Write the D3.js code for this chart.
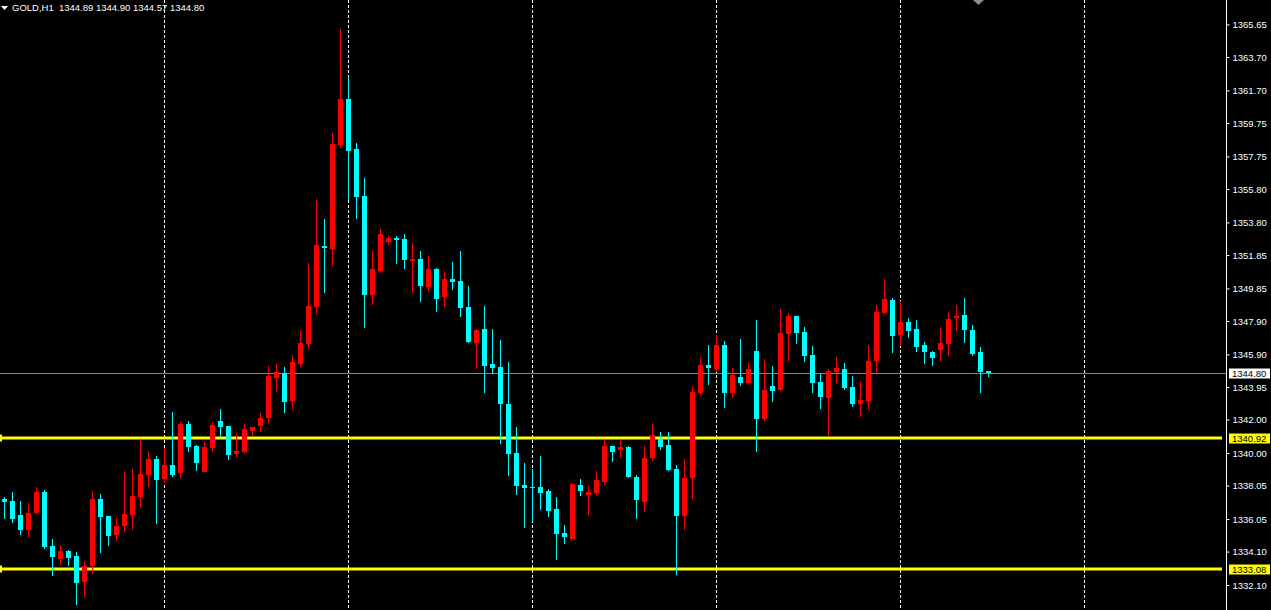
<!DOCTYPE html>
<html><head><meta charset="utf-8">
<script src="https://cdn.jsdelivr.net/npm/d3@7"></script>
<style>html,body{margin:0;padding:0;background:#000;overflow:hidden}</style>
</head><body><svg id="c" width="1271" height="610"></svg>
<script>
const symbolTitle = "GOLD,H1";
const lastQuote = [1344.89, 1344.90, 1344.57, 1344.80];
const opens = [1337.25,1337.13,1336.29,1335.41,1336.43,1337.67,1334.43,1333.66,1334.13,1333.84,1332.30,1333.26,1337.25,1336.23,1335.11,1335.65,1336.31,1337.38,1338.70,1339.64,1338.46,1339.28,1338.82,1341.73,1340.42,1338.88,1340.32,1341.91,1341.61,1339.96,1340.08,1341.32,1341.63,1342.11,1344.51,1344.80,1343.13,1345.34,1346.54,1348.75,1352.39,1352.21,1358.43,1361.18,1358.19,1355.38,1349.45,1350.89,1352.63,1352.86,1352.81,1351.49,1351.61,1349.93,1351.01,1349.33,1350.41,1350.29,1348.74,1346.58,1347.42,1345.33,1345.15,1342.93,1340.00,1338.08,1337.96,1337.96,1337.73,1336.65,1335.21,1334.85,1338.08,1337.49,1337.61,1338.26,1340.42,1340.18,1340.36,1338.56,1337.07,1339.70,1340.84,1340.48,1339.04,1336.23,1338.50,1343.59,1345.27,1345.03,1346.46,1343.59,1344.55,1344.19,1346.10,1342.03,1344.01,1343.77,1347.12,1348.20,1347.24,1345.86,1344.25,1343.29,1344.85,1345.03,1343.95,1342.93,1343.11,1345.50,1348.38,1349.15,1347.06,1347.84,1347.42,1346.46,1346.04,1346.16,1346.52,1348.08,1348.26,1347.36,1346.04,1344.89];
const highs = [1337.38,1337.67,1337.13,1337.01,1337.96,1337.79,1334.85,1334.49,1334.19,1334.07,1333.54,1337.73,1337.55,1336.25,1336.11,1338.86,1339.04,1340.84,1340.12,1339.82,1340.30,1342.45,1341.85,1341.91,1340.48,1340.66,1341.85,1342.63,1341.63,1341.14,1341.73,1341.57,1342.39,1345.21,1345.33,1345.15,1345.86,1347.36,1351.37,1355.14,1354.00,1359.15,1365.37,1362.50,1358.55,1356.46,1352.15,1353.40,1352.98,1352.98,1353.10,1352.57,1352.09,1351.79,1351.05,1350.89,1351.43,1352.09,1349.99,1347.42,1348.80,1347.42,1346.76,1345.44,1341.55,1339.40,1339.04,1339.82,1337.85,1337.37,1335.69,1338.16,1338.44,1338.02,1338.92,1340.78,1340.44,1340.84,1340.42,1338.68,1340.42,1341.73,1341.26,1341.26,1339.28,1339.64,1344.01,1345.68,1346.46,1347.06,1346.70,1345.09,1346.82,1345.44,1347.96,1345.62,1345.21,1348.62,1348.38,1348.22,1347.54,1346.40,1344.73,1345.03,1345.74,1345.38,1344.61,1344.25,1346.46,1348.86,1350.41,1349.27,1349.09,1348.08,1347.96,1346.64,1346.10,1347.48,1348.44,1348.86,1349.27,1347.66,1346.34,1344.90];
const lows = [1336.07,1335.83,1335.11,1334.99,1336.38,1334.27,1332.66,1333.30,1333.26,1330.92,1331.34,1332.78,1334.03,1334.45,1334.75,1335.29,1335.41,1336.79,1337.98,1335.77,1338.22,1338.58,1338.52,1340.08,1338.94,1338.85,1340.08,1340.97,1339.60,1339.78,1339.96,1341.02,1341.26,1341.81,1343.67,1342.41,1342.63,1345.16,1346.22,1348.32,1349.57,1351.19,1358.25,1355.14,1354.00,1347.48,1348.86,1350.77,1352.45,1351.31,1351.01,1349.57,1349.03,1349.69,1348.44,1348.74,1349.75,1348.14,1346.58,1345.03,1343.59,1344.73,1340.54,1338.62,1337.49,1335.51,1335.87,1336.59,1336.17,1333.60,1334.55,1334.83,1337.43,1336.29,1337.49,1338.08,1339.46,1339.76,1338.50,1336.05,1336.47,1339.52,1340.18,1338.92,1332.70,1335.39,1337.25,1343.47,1344.07,1344.85,1342.69,1343.29,1344.01,1344.07,1340.06,1341.91,1343.05,1343.71,1345.50,1346.52,1345.44,1343.59,1342.63,1341.02,1344.19,1343.77,1342.75,1342.15,1342.63,1344.73,1348.36,1345.98,1346.40,1346.88,1346.04,1345.33,1345.21,1345.50,1345.80,1347.30,1346.58,1345.80,1343.59,1344.57];
const closes = [1337.08,1336.07,1335.41,1336.41,1337.67,1334.39,1333.79,1334.13,1333.73,1332.24,1333.24,1337.25,1336.19,1335.05,1335.63,1336.35,1337.43,1338.74,1339.64,1338.40,1339.28,1338.70,1341.73,1340.38,1339.42,1340.36,1341.67,1341.57,1339.90,1340.12,1341.43,1341.55,1342.09,1344.61,1344.85,1343.07,1345.44,1346.58,1348.80,1352.45,1352.27,1358.49,1361.18,1358.07,1355.32,1349.45,1351.01,1353.10,1352.86,1352.75,1351.55,1351.61,1349.99,1351.01,1349.21,1350.41,1350.23,1348.68,1346.64,1347.36,1345.21,1345.09,1342.93,1339.94,1338.02,1337.90,1337.90,1337.61,1336.53,1335.15,1334.97,1338.14,1337.73,1337.67,1338.38,1340.42,1340.06,1340.36,1338.56,1337.19,1339.70,1341.08,1340.36,1338.98,1336.23,1338.50,1343.65,1345.27,1345.09,1346.46,1343.59,1344.67,1344.19,1345.03,1342.03,1343.77,1343.71,1347.18,1348.20,1347.18,1345.80,1344.19,1343.35,1344.91,1345.09,1343.89,1342.93,1343.17,1345.50,1348.44,1349.21,1347.00,1347.84,1347.30,1346.34,1346.04,1345.68,1346.58,1348.02,1348.20,1347.36,1345.92,1344.85,1344.80];
const priceTicks = [1365.65,1363.70,1361.70,1359.75,1357.75,1355.80,1353.80,1351.85,1349.85,1347.90,1345.90,1343.95,1342.00,1340.00,1338.05,1336.05,1334.10,1332.10];
const levelLines = [1340.92, 1333.08];
const bidPrice = 1344.80;
const gridBars = [20, 43, 66, 89, 112, 135];
const visibleBars = 153;

const W = 1271, H = 610, axisX = 1226;
const svg = d3.select("#c");
svg.append("rect").attr("width", W).attr("height", H).attr("fill", "#000");

const x = d3.scaleBand().domain(d3.range(visibleBars)).range([0, visibleBars * 8]);
const y = d3.scaleLinear().domain([1332.10, 1365.65]).range([585, 24.4]);
const fmt = d3.format(".2f");

// vertical dashed grid
svg.append("g").selectAll("line").data(gridBars).join("line")
  .attr("x1", d => x(d) + 4.5).attr("x2", d => x(d) + 4.5)
  .attr("y1", 0).attr("y2", H)
  .attr("stroke", "#fff").attr("stroke-width", 1).attr("stroke-dasharray", "3,2");

// bid line
svg.append("line").attr("x1", 0).attr("x2", axisX).attr("y1", Math.round(y(bidPrice)) + 0.5).attr("y2", Math.round(y(bidPrice)) + 0.5)
  .attr("stroke", "#778899").attr("stroke-width", 1);

// yellow level lines
const lv = svg.append("g");
lv.selectAll("rect.ln").data(levelLines).join("rect").attr("class", "ln")
  .attr("x", 0).attr("width", 1222).attr("y", d => Math.round(y(d)) - 1.5).attr("height", 3).attr("fill", "#ffff00");
lv.selectAll("rect.mk").data(levelLines).join("rect").attr("class", "mk")
  .attr("x", 0).attr("width", 2).attr("y", d => Math.round(y(d)) - 3.5).attr("height", 7).attr("fill", "#ffff00");

// candles
const bars = d3.range(opens.length).map(i => ({i, o: opens[i], h: highs[i], l: lows[i], c: closes[i]}));
const col = d => d.c >= d.o ? "#ff0000" : "#00ffff";
const cg = svg.append("g");
cg.selectAll("rect.w").data(bars).join("rect").attr("class", "w")
  .attr("x", d => x(d.i) + 4).attr("width", 1)
  .attr("y", d => Math.round(y(d.h)))
  .attr("height", d => Math.max(1, Math.round(y(d.l)) - Math.round(y(d.h))))
  .attr("fill", col);
cg.selectAll("rect.b").data(bars).join("rect").attr("class", "b")
  .attr("x", d => x(d.i) + 2).attr("width", 5)
  .attr("y", d => Math.round(y(Math.max(d.o, d.c))))
  .attr("height", d => Math.max(1, Math.round(y(Math.min(d.o, d.c))) - Math.round(y(Math.max(d.o, d.c)))))
  .attr("fill", col);

// axis
svg.append("rect").attr("x", axisX).attr("y", 0).attr("width", 1).attr("height", H).attr("fill", "#fff");
const ax = svg.append("g").attr("transform", `translate(${axisX + 0.5},0)`)
  .call(d3.axisRight(y).tickValues(priceTicks).tickSize(3).tickPadding(3).tickFormat(fmt));
ax.select(".domain").remove();
ax.selectAll(".tick line").attr("stroke", "#fff");
ax.selectAll(".tick text").attr("fill", "#fff").attr("font-family", "Liberation Sans, Arial, sans-serif").attr("font-size", "9.5px");

// price labels
function priceLabel(p, bg) {
  const yy = Math.round(y(p));
  svg.append("rect").attr("x", 1229).attr("y", yy - 4.5).attr("width", 41).attr("height", 10).attr("fill", bg);
  svg.append("text").attr("x", 1232).attr("y", yy + 0.5).attr("dy", "0.32em")
    .attr("font-family", "Liberation Sans, Arial, sans-serif").attr("font-size", "9.5px").attr("fill", "#000").text(fmt(p));
}
levelLines.forEach(p => priceLabel(p, "#ffff00"));
priceLabel(bidPrice, "#ffffff");

// title
svg.append("path").attr("d", "M1,6 L8,6 L4.5,10 Z").attr("fill", "#fff");
svg.append("text").attr("x", 12).attr("y", 11)
  .attr("font-family", "Liberation Sans, Arial, sans-serif").attr("font-size", "9.5px").attr("fill", "#fff")
  .attr("xml:space", "preserve").style("white-space", "pre")
  .text(symbolTitle + "  " + lastQuote.map(fmt).join(" "));

// chart shift marker
svg.append("path").attr("d", "M973,0 L984,0 L978.5,5 Z").attr("fill", "#8c8c8c");
</script></body></html>
